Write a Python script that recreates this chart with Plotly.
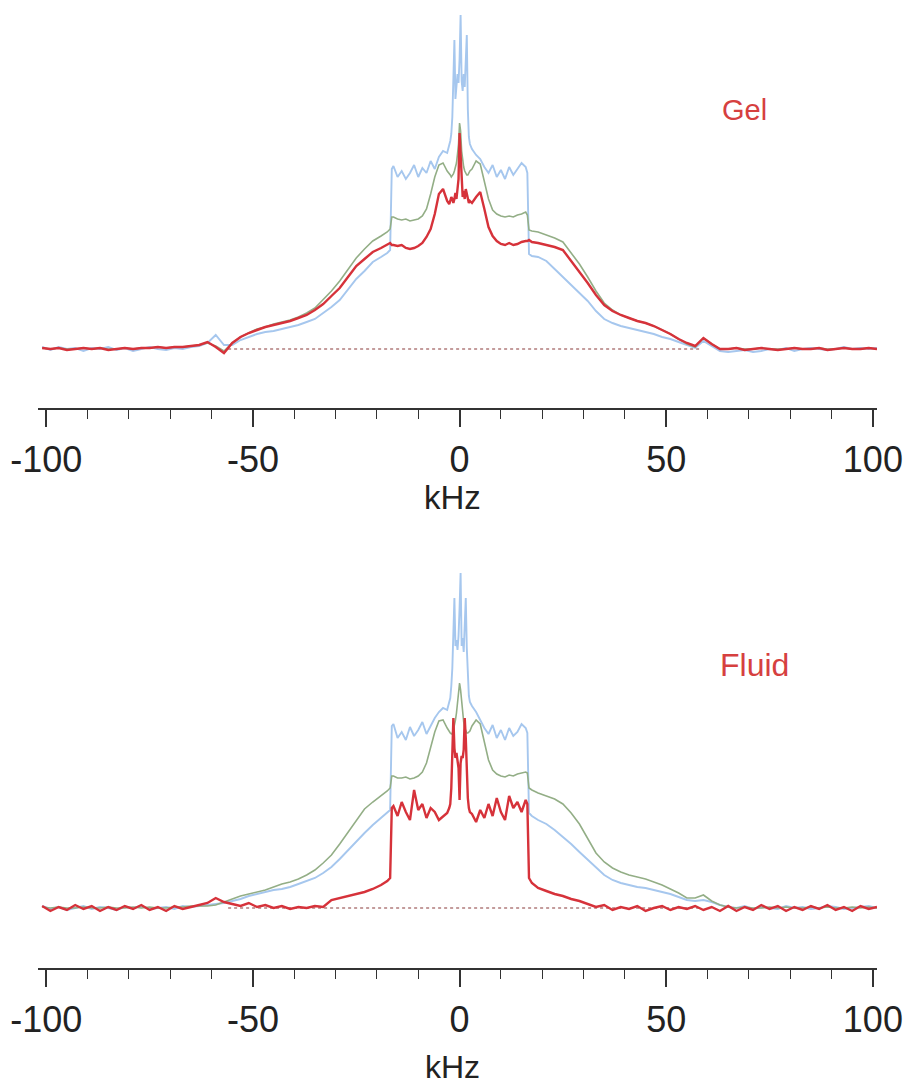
import numpy as np
import plotly.graph_objects as go

# ---------------- sample positions (kHz) ----------------
x_left_outer = list(np.arange(-101, -18, 2))          # -101 ... -19
x_horn_left = [-17.5, -16.8, -16.4]
x_inner_left = list(range(-16, -2))                   # -16 ... -3
x_center = list(np.arange(-2.5, 2.51, 0.25))          # -2.5 ... 2.5
x_inner_right = list(range(3, 17))                    # 3 ... 16
x_horn_right = [16.4, 16.8, 17.5]
x_right_outer = list(np.arange(19, 102, 2))           # 19 ... 101
khz = x_left_outer + x_horn_left + x_inner_left + x_center + x_inner_right + x_horn_right + x_right_outer

# ---------------- Gel spectra (intensity, arbitrary units) ----------------
gel_blue_lo = [2,-1,2,0,1,-2,1,0,2,-1,1,-2,0,2,0,-1,1,0,2,3, 6,14,4,4,9,12,15,17,18,20,22,24,27,30,36,42,49,60,70,78,87,92]
gel_blue_hl = [96, 99, 180]
gel_blue_il = [183,172,178,170,176,184,172,181,176,188,180,192,198,196]
gel_blue_c = [204,208,215,232,270,309,250,262,275,266,290,334,268,258,275,262,290,314,240,212,205]
gel_blue_ir = [200,194,190,182,176,184,172,179,170,182,174,180,186,182]
gel_blue_hr = [176, 95, 93]
gel_blue_ro = [92,88,80,72,64,56,48,38,30,26,23,21,19,17,15,12,10,7,4,1,8,3,-2,
               -3,-2,-1,-3,-2,0,-1,1,-2,0,1,0,-1,0,2,0,1,0,1]

gel_green_lo = [1,0,1,0,0,1,0,1,0,0,1,0,1,1,2,1,2,2,3,4, 6,3,-2,6,12,16,20,22,25,27,29,32,36,41,49,58,68,79,91,100,108,113]
gel_green_hl = [117, 120, 132]
gel_green_il = [132,130,129,130,128,129,130,133,140,155,172,184,186,178]
gel_green_c = [176,174,172,173,175,178,182,186,195,205,226,218,198,188,182,178,175,174,174,176,178]
gel_green_ir = [180,188,185,168,150,139,135,133,132,133,132,134,135,137]
gel_green_hr = [134, 119, 118]
gel_green_ro = [117,114,111,107,96,85,72,58,46,39,34,31,28,26,23,19,15,10,5,2,11,5,0,
                0,1,0,0,1,0,0,0,1,0,0,1,0,0,1,0,0,1,0]

gel_red_lo = [1,0,1,-1,0,1,0,1,-1,0,1,0,1,1,2,1,2,2,3,4, 7,2,-4,6,12,16,19,22,24,26,28,31,34,39,45,53,61,72,83,90,97,101]
gel_red_hl = [104, 106, 104]
gel_red_il = [104,103,104,101,100,101,103,106,112,120,135,155,160,148]
gel_red_c = [145,148,152,150,146,150,156,150,158,170,216,190,160,152,158,150,160,154,148,146,148]
gel_red_ir = [146,152,157,140,122,113,108,105,104,106,104,105,107,108]
gel_red_hr = [108, 109, 107]
gel_red_ro = [106,104,102,99,88,78,66,54,44,38,34,31,28,26,23,19,15,10,6,3,11,5,0,
              0,1,-1,0,1,0,-1,0,1,0,0,1,-1,0,1,0,0,1,0]

# ---------------- Fluid spectra ----------------
fl_blue_lo = [2,-1,1,-2,0,2,-1,1,0,-2,1,0,2,-1,0,1,-1,2,1,2, 3,4,5,7,9,12,14,16,18,19,21,24,27,30,35,41,49,58,67,75,83,90]
fl_blue_hl = [95, 98, 182]
fl_blue_il = [184,170,176,168,181,172,178,186,174,182,190,196,200,198]
fl_blue_c = [205,210,222,240,275,310,262,268,258,272,300,335,262,270,256,278,310,260,230,212,206]
fl_blue_ir = [202,196,188,180,174,183,170,178,168,180,172,176,184,180]
fl_blue_hr = [175, 95, 92]
fl_blue_ro = [88,84,78,71,64,56,48,40,33,28,25,23,21,20,18,16,14,11,8,7,8,6,3,
              1,0,2,-1,1,0,-1,2,0,1,-1,0,2,1,-1,0,1,2,0]

fl_green_lo = [1,0,1,0,0,1,0,0,1,0,0,1,0,1,0,0,1,1,2,2, 2,3,6,9,12,14,16,18,21,24,26,29,33,38,45,53,64,76,88,99,106,112]
fl_green_hl = [117, 120, 132]
fl_green_il = [132,130,130,131,129,130,132,136,145,160,176,187,188,180]
fl_green_c = [176,175,174,175,178,182,188,195,205,215,225,218,205,193,186,180,177,175,175,176,177]
fl_green_ir = [182,188,184,166,148,138,134,132,131,133,132,134,135,136]
fl_green_hr = [135, 120, 118]
fl_green_ro = [115,112,109,104,95,84,70,55,46,40,36,33,31,29,26,23,19,15,10,10,13,7,3,
               1,0,1,0,0,1,0,1,0,0,1,0,1,0,0,1,0,1,0]

fl_red_lo = [2,-3,1,-2,3,-1,2,-3,1,-2,2,-1,3,-2,1,-3,2,-1,1,3, 5,10,6,4,2,5,1,3,0,2,-1,1,0,2,1,8,10,12,14,16,19,23]
fl_red_hl = [27, 30, 100]
fl_red_il = [102,92,106,96,88,118,98,104,90,100,96,88,92,95]
fl_red_c = [100,104,120,150,190,160,150,155,148,140,108,145,152,150,158,190,170,130,110,100,96]
fl_red_ir = [94,86,98,90,104,92,110,96,88,112,100,106,96,108]
fl_red_hr = [104, 30, 25]
fl_red_ro = [20,17,14,12,9,7,4,1,3,-2,1,-1,2,-3,0,2,-2,1,-1,2,-2,1,-3,
             2,-3,1,-2,3,-1,2,-3,1,-2,2,-1,3,-2,1,-3,2,-1,1]

# dotted zero reference line extent (kHz)
baseline_x = [-56, 58]
baseline_y = [0, 0]

tick_vals = [-100, -50, 0, 50, 100]
tick_text = ["-100", "-50", "0", "50", "100"]


def join(*parts):
    out = []
    for p in parts:
        out += list(p)
    return out


gel = {
    "blue": join(gel_blue_lo, gel_blue_hl, gel_blue_il, gel_blue_c, gel_blue_ir, gel_blue_hr, gel_blue_ro),
    "green": join(gel_green_lo, gel_green_hl, gel_green_il, gel_green_c, gel_green_ir, gel_green_hr, gel_green_ro),
    "red": join(gel_red_lo, gel_red_hl, gel_red_il, gel_red_c, gel_red_ir, gel_red_hr, gel_red_ro),
}
fluid = {
    "blue": join(fl_blue_lo, fl_blue_hl, fl_blue_il, fl_blue_c, fl_blue_ir, fl_blue_hr, fl_blue_ro),
    "green": join(fl_green_lo, fl_green_hl, fl_green_il, fl_green_c, fl_green_ir, fl_green_hr, fl_green_ro),
    "red": join(fl_red_lo, fl_red_hl, fl_red_il, fl_red_c, fl_red_ir, fl_red_hr, fl_red_ro),
}

colors = {"blue": "#a6c7ee", "green": "#93ae86", "red": "#d6323a"}
widths = {"blue": 1.9, "green": 1.6, "red": 2.4}

W, H = 903, 1089
fig = go.Figure()

for data, xa, ya in [(gel, "x", "y"), (fluid, "x2", "y2")]:
    fig.add_trace(go.Scatter(x=baseline_x, y=baseline_y, mode="lines",
                             line=dict(color="#8a3a3a", width=1.2, dash="dot"),
                             xaxis=xa, yaxis=ya, showlegend=False, hoverinfo="skip"))
    for name in ["blue", "green", "red"]:
        fig.add_trace(go.Scatter(x=khz, y=data[name], mode="lines",
                                 line=dict(color=colors[name], width=widths[name]),
                                 xaxis=xa, yaxis=ya, showlegend=False))

xdom = [38 / W, 877 / W]
axis_common = dict(
    range=[-102, 101], domain=xdom, showline=True, linecolor="#333333", linewidth=1.5,
    ticks="outside", ticklen=17, tickwidth=1.5, tickcolor="#333333",
    tickmode="array", tickvals=tick_vals, ticktext=tick_text,
    tickfont=dict(family="Liberation Sans, Arial, sans-serif", size=36, color="#222222"),
    ticklabelstandoff=2, ticklabeloverflow="allow", automargin=False,
    minor=dict(ticks="outside", ticklen=9, tickwidth=1.3, tickcolor="#333333",
               tickmode="linear", tick0=0, dtick=10, showgrid=False),
    showgrid=False, zeroline=False, fixedrange=True,
)

fig.update_layout(
    width=W, height=H,
    margin=dict(l=0, r=0, t=0, b=0, autoexpand=False),
    paper_bgcolor="white", plot_bgcolor="white",
    xaxis=dict(anchor="y", **axis_common),
    yaxis=dict(domain=[1 - 408 / H, 1], range=[-59, 349], visible=False, fixedrange=True, automargin=False),
    xaxis2=dict(anchor="y2", **axis_common),
    yaxis2=dict(domain=[1 - 968 / H, 1 - 545 / H], range=[-60, 363], visible=False, fixedrange=True, automargin=False),
    font=dict(family="Liberation Sans, Arial, sans-serif"),
    annotations=[
        dict(text="kHz", x=453 / W, y=1 - 497 / H, xref="paper", yref="paper",
             showarrow=False, font=dict(size=33, color="#222222"), xanchor="center", yanchor="middle"),
        dict(text="kHz", x=453 / W, y=1 - 1067 / H, xref="paper", yref="paper",
             showarrow=False, font=dict(size=32, color="#222222"), xanchor="center", yanchor="middle"),
        dict(text="Gel", x=744 / W, y=1 - 110 / H, xref="paper", yref="paper",
             showarrow=False, font=dict(size=29, color="#d6403f"), xanchor="center", yanchor="middle"),
        dict(text="Fluid", x=754 / W, y=1 - 665 / H, xref="paper", yref="paper",
             showarrow=False, font=dict(size=32, color="#d6403f"), xanchor="center", yanchor="middle"),
    ],
)

fig.write_html("out.html")
